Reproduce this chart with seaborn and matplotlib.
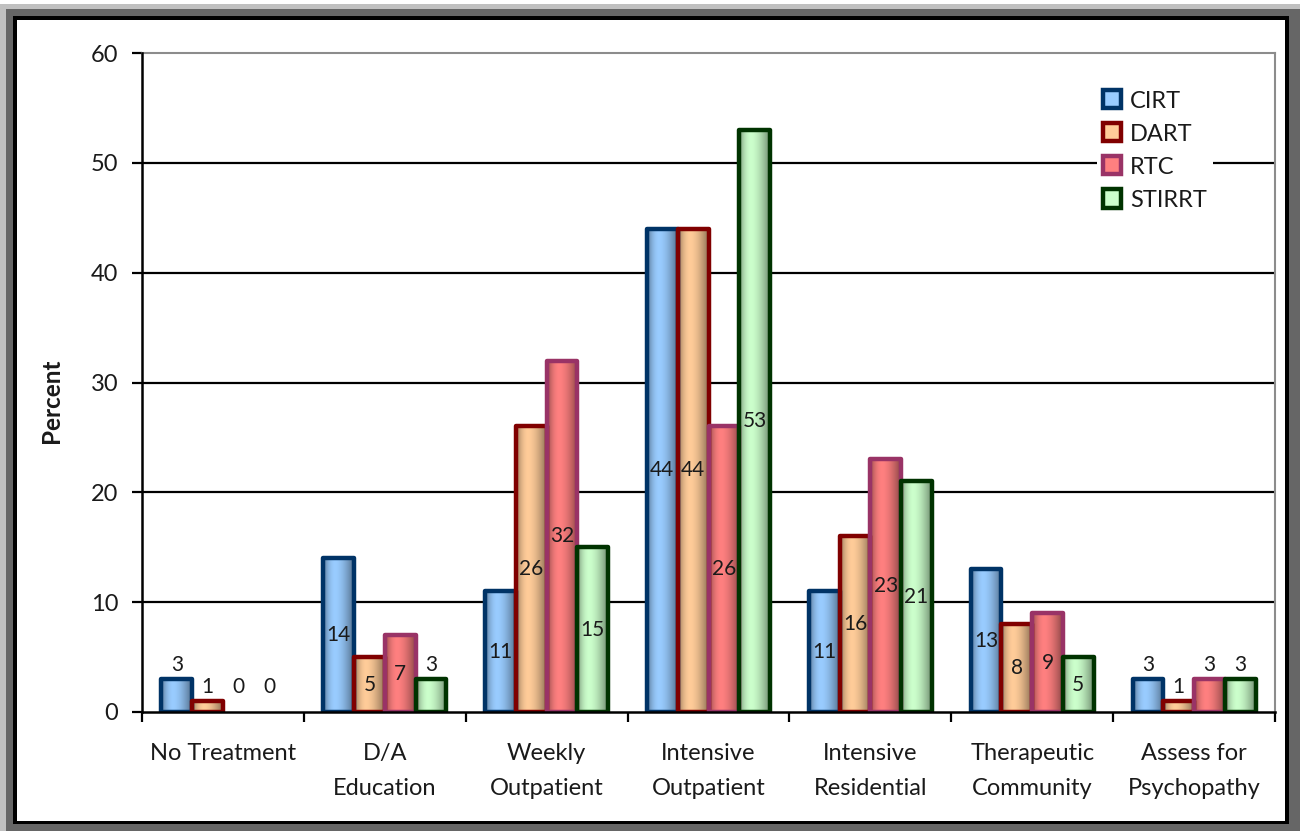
import numpy as np
import pandas as pd
import matplotlib
matplotlib.use("Agg")
import matplotlib.pyplot as plt
import seaborn as sns
from matplotlib.patches import Rectangle, Patch
from matplotlib.colors import to_rgb

# ---- data -------------------------------------------------------------
categories = ["No Treatment", "D/A\nEducation", "Weekly\nOutpatient",
              "Intensive\nOutpatient", "Intensive\nResidential",
              "Therapeutic\nCommunity", "Assess for\nPsychopathy"]
programs = ["CIRT", "DART", "RTC", "STIRRT"]
cirt = [3, 14, 11, 44, 11, 13, 3]
dart = [1, 5, 26, 44, 16, 8, 1]
rtc = [0, 7, 32, 26, 23, 9, 3]
stirrt = [0, 3, 15, 53, 21, 5, 3]
y_ticks = [0, 10, 20, 30, 40, 50, 60]

fill_colors = ["#99CCFF", "#FFCC99", "#FF8080", "#CCFFCC"]
edge_colors = ["#003366", "#800000", "#993366", "#003300"]

series = [cirt, dart, rtc, stirrt]
df = pd.concat(
    [pd.DataFrame({"Category": categories, "Program": p, "Percent": vals})
     for p, vals in zip(programs, series)],
    ignore_index=True,
)

# ---- style ------------------------------------------------------------
sns.set_theme(style="white")
plt.rcParams["font.family"] = ["Lato", "DejaVu Sans"]
text_color = "#1a1a1a"

W, H = 1300, 831
fig = plt.figure(figsize=(W / 100, H / 100), dpi=100)
fig.patch.set_facecolor("white")


def frame_rect(x, y_top, w, h, color, z):
    r = Rectangle((x / W, 1 - (y_top + h) / H), w / W, h / H,
                  transform=fig.transFigure, facecolor=color,
                  edgecolor="none", zorder=z)
    fig.patches.append(r)


# picture frame around the chart
frame_rect(0, 4, W, H - 4, "#c0c0c0", -40)
frame_rect(6, 9, W - 6, H - 9, "#666666", -30)
frame_rect(13, 16, 1289 - 13, 824 - 16, "#000000", -20)
frame_rect(17, 20, 1285 - 17, 821 - 20, "#ffffff", -10)

ax = fig.add_axes([142 / W, (H - 712) / H, 1133 / W, 659 / H])
ax.set_facecolor("none")

sns.barplot(data=df, x="Category", y="Percent", hue="Program",
            hue_order=programs, order=categories, palette=fill_colors,
            saturation=1, width=0.76, errorbar=None, legend=False,
            ax=ax, zorder=3)

# horizontal shading profile for the bars (cylinder look)
t = np.linspace(0, 1, 64)
shade = np.where(t < 0.4, 1 - 0.42 * ((0.4 - t) / 0.4) ** 2,
                 1 - 0.45 * ((t - 0.4) / 0.6) ** 1.6)

for container, fc, ec, vals in zip(ax.containers, fill_colors, edge_colors, series):
    base = np.array(to_rgb(fc))
    grad = (base[None, :] * shade[:, None])[None, :, :]
    for bar, v in zip(container, vals):
        x0, w, h = bar.get_x(), bar.get_width(), bar.get_height()
        xc = x0 + w / 2
        if h <= 0:
            bar.set_visible(False)
        else:
            bar.set_facecolor("none")
            bar.set_edgecolor(ec)
            bar.set_linewidth(3.2)
            bar.set_joinstyle("round")
            bar.set_zorder(4)
            im = ax.imshow(grad, extent=(x0, x0 + w, 0, h), aspect="auto",
                           interpolation="bilinear", zorder=3.5)
            im.set_clip_path(bar)
        if v <= 3:
            ax.text(xc, max(v, 1) + 1.3, f"{v}", ha="center", va="center",
                    fontsize=15, color=text_color, zorder=6)
        else:
            ax.text(xc, v / 2, f"{v}", ha="center", va="center",
                    fontsize=15, color=text_color, zorder=6)

# ---- axes -------------------------------------------------------------
ax.set_xlim(-0.5, len(categories) - 0.5)
ax.set_ylim(0, 60)
ax.set_yticks(y_ticks)
ax.set_yticklabels([str(v) for v in y_ticks])
for yv in y_ticks[1:-1]:
    ax.axhline(yv, color="black", lw=1.6, zorder=1)

ax.set_xticks(range(len(categories)))
ax.set_xticklabels(categories, linespacing=1.85)
ax.set_xticks(np.arange(-0.5, len(categories), 1.0), minor=True)
ax.tick_params(axis="x", which="major", length=0, pad=22,
               labelsize=17, labelcolor=text_color)
ax.tick_params(axis="x", which="minor", length=7, width=1.6,
               direction="out", color="black", bottom=True)
ax.tick_params(axis="y", which="major", length=7, width=1.6,
               direction="out", color="black", left=True, pad=10,
               labelsize=17, labelcolor=text_color)

ax.set_xlabel("")
ax.set_ylabel("Percent", fontsize=17.5, color=text_color, fontweight="bold")
ax.yaxis.set_label_coords(-0.0695, 0.473)

for side in ("left", "bottom"):
    ax.spines[side].set_color("black")
    ax.spines[side].set_linewidth(1.8)
    ax.spines[side].set_zorder(5)
for side in ("top", "right"):
    ax.spines[side].set_color("#8c8c8c")
    ax.spines[side].set_linewidth(1.5)

handles = [Patch(facecolor=fc, edgecolor=ec, linewidth=3.2, joinstyle="round")
           for fc, ec in zip(fill_colors, edge_colors)]
leg = ax.legend(handles, programs, loc="center left",
                bbox_to_anchor=(0.843, 0.852), frameon=True,
                fontsize=17, handlelength=0.75, handleheight=0.8,
                handletextpad=0.4, labelspacing=0.5, borderpad=0.25,
                borderaxespad=0)
leg.get_frame().set_facecolor("white")
leg.get_frame().set_edgecolor("none")
leg.get_frame().set_alpha(1)
leg.set_zorder(7)
for txt in leg.get_texts():
    txt.set_color(text_color)

fig.savefig("out.png", dpi=100)
